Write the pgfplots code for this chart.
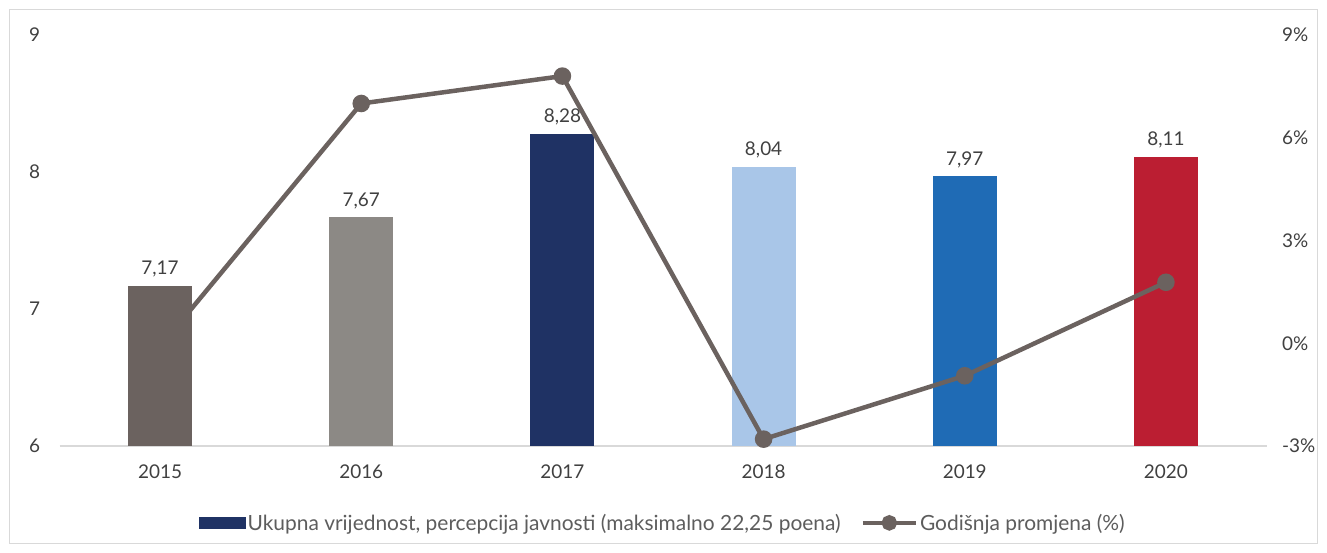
\documentclass[border=0pt]{standalone}
\usepackage{pgfplots}
\pgfplotsset{compat=1.18}
\usepackage{fontspec}
\setmainfont{Lato}
\definecolor{c15}{HTML}{6B625F}
\definecolor{c16}{HTML}{8C8985}
\definecolor{c17}{HTML}{1F3264}
\definecolor{c18}{HTML}{A9C6E8}
\definecolor{c19}{HTML}{1F6BB5}
\definecolor{c20}{HTML}{BB1E32}
\definecolor{txt}{HTML}{404040}
\definecolor{frame}{HTML}{D9D9D9}
\begin{document}
\begin{tikzpicture}[x=1bp,y=1bp]
\useasboundingbox (0,0) rectangle (1327,553);
\draw[color=frame, line width=1bp] (9.5,9.5) rectangle (1317.5,543.5);
\pgfplotsset{
  common/.style={
    at={(59.5bp,107bp)}, anchor=south west,
    scale only axis, width=1207bp, height=411bp,
    xmin=-0.5, xmax=5.5,
    tick style={draw=none},
    major tick length=0pt,
    ticklabel style={font=\fontsize{19}{22}\selectfont, text=txt},
    /pgf/number format/assume math mode=true,
  }
}
\begin{axis}[common,
  ymin=6, ymax=9, ytick={6,7,8,9},
  axis x line*=bottom, axis y line*=left,
  x axis line style={draw=frame, line width=1.2bp},
  y axis line style={draw=none},
  xtick={0,1,2,3,4,5},
  xticklabels={2015,2016,2017,2018,2019,2020},
  xticklabel style={yshift=-15bp},
  yticklabel style={xshift=-16bp},
  nodes near coords,
  point meta=explicit symbolic,
  every node near coord/.append style={font=\fontsize{19}{22}\selectfont, text=txt, yshift=5bp},
]
\addplot[ybar, bar width=64bp, bar shift=0pt, fill=c15, draw=none] coordinates {(0,7.17) [7,17]};
\addplot[ybar, bar width=64bp, bar shift=0pt, fill=c16, draw=none] coordinates {(1,7.67) [7,67]};
\addplot[ybar, bar width=64bp, bar shift=0pt, fill=c17, draw=none] coordinates {(2,8.28) [8,28]};
\addplot[ybar, bar width=64bp, bar shift=0pt, fill=c18, draw=none] coordinates {(3,8.04) [8,04]};
\addplot[ybar, bar width=64bp, bar shift=0pt, fill=c19, draw=none] coordinates {(4,7.97) [7,97]};
\addplot[ybar, bar width=64bp, bar shift=0pt, fill=c20, draw=none] coordinates {(5,8.11) [8,11]};
\end{axis}
\begin{axis}[common,
  ymin=-3, ymax=9, ytick={-3,0,3,6,9},
  axis x line=none, axis y line*=right,
  y axis line style={draw=none},
  yticklabel={\pgfmathprintnumber{\tick}\%},
  yticklabel style={xshift=12bp},
  legend style={draw=none, at={(0.5,-0.187)}, anchor=center,
    font=\fontsize{21}{24}\selectfont, text=txt!85,
    /tikz/every even column/.append style={column sep=18bp}},
  legend columns=2,
]
\addlegendimage{legend image code/.code={\fill[c17] (0bp,-5bp) rectangle (46bp,6bp);}}
\addlegendentry{Ukupna vrijednost, percepcija javnosti (maksimalno 22,25 poena)}
\addplot[color=c15, line width=4.5bp, mark=*, mark size=6.5bp, mark options={fill=c15, draw=none},
  legend image code/.code={\draw[c15, line width=4.5bp] (0bp,0bp) -- (53bp,0bp); \fill[c15] (26.5bp,0bp) circle (5.5bp);}]
  coordinates {(0,-0.1) (1,7.0) (2,7.8) (3,-2.8) (4,-0.95) (5,1.78)};
\addlegendentry{Godišnja promjena (\%)}
\end{axis}
\end{tikzpicture}
\end{document}
